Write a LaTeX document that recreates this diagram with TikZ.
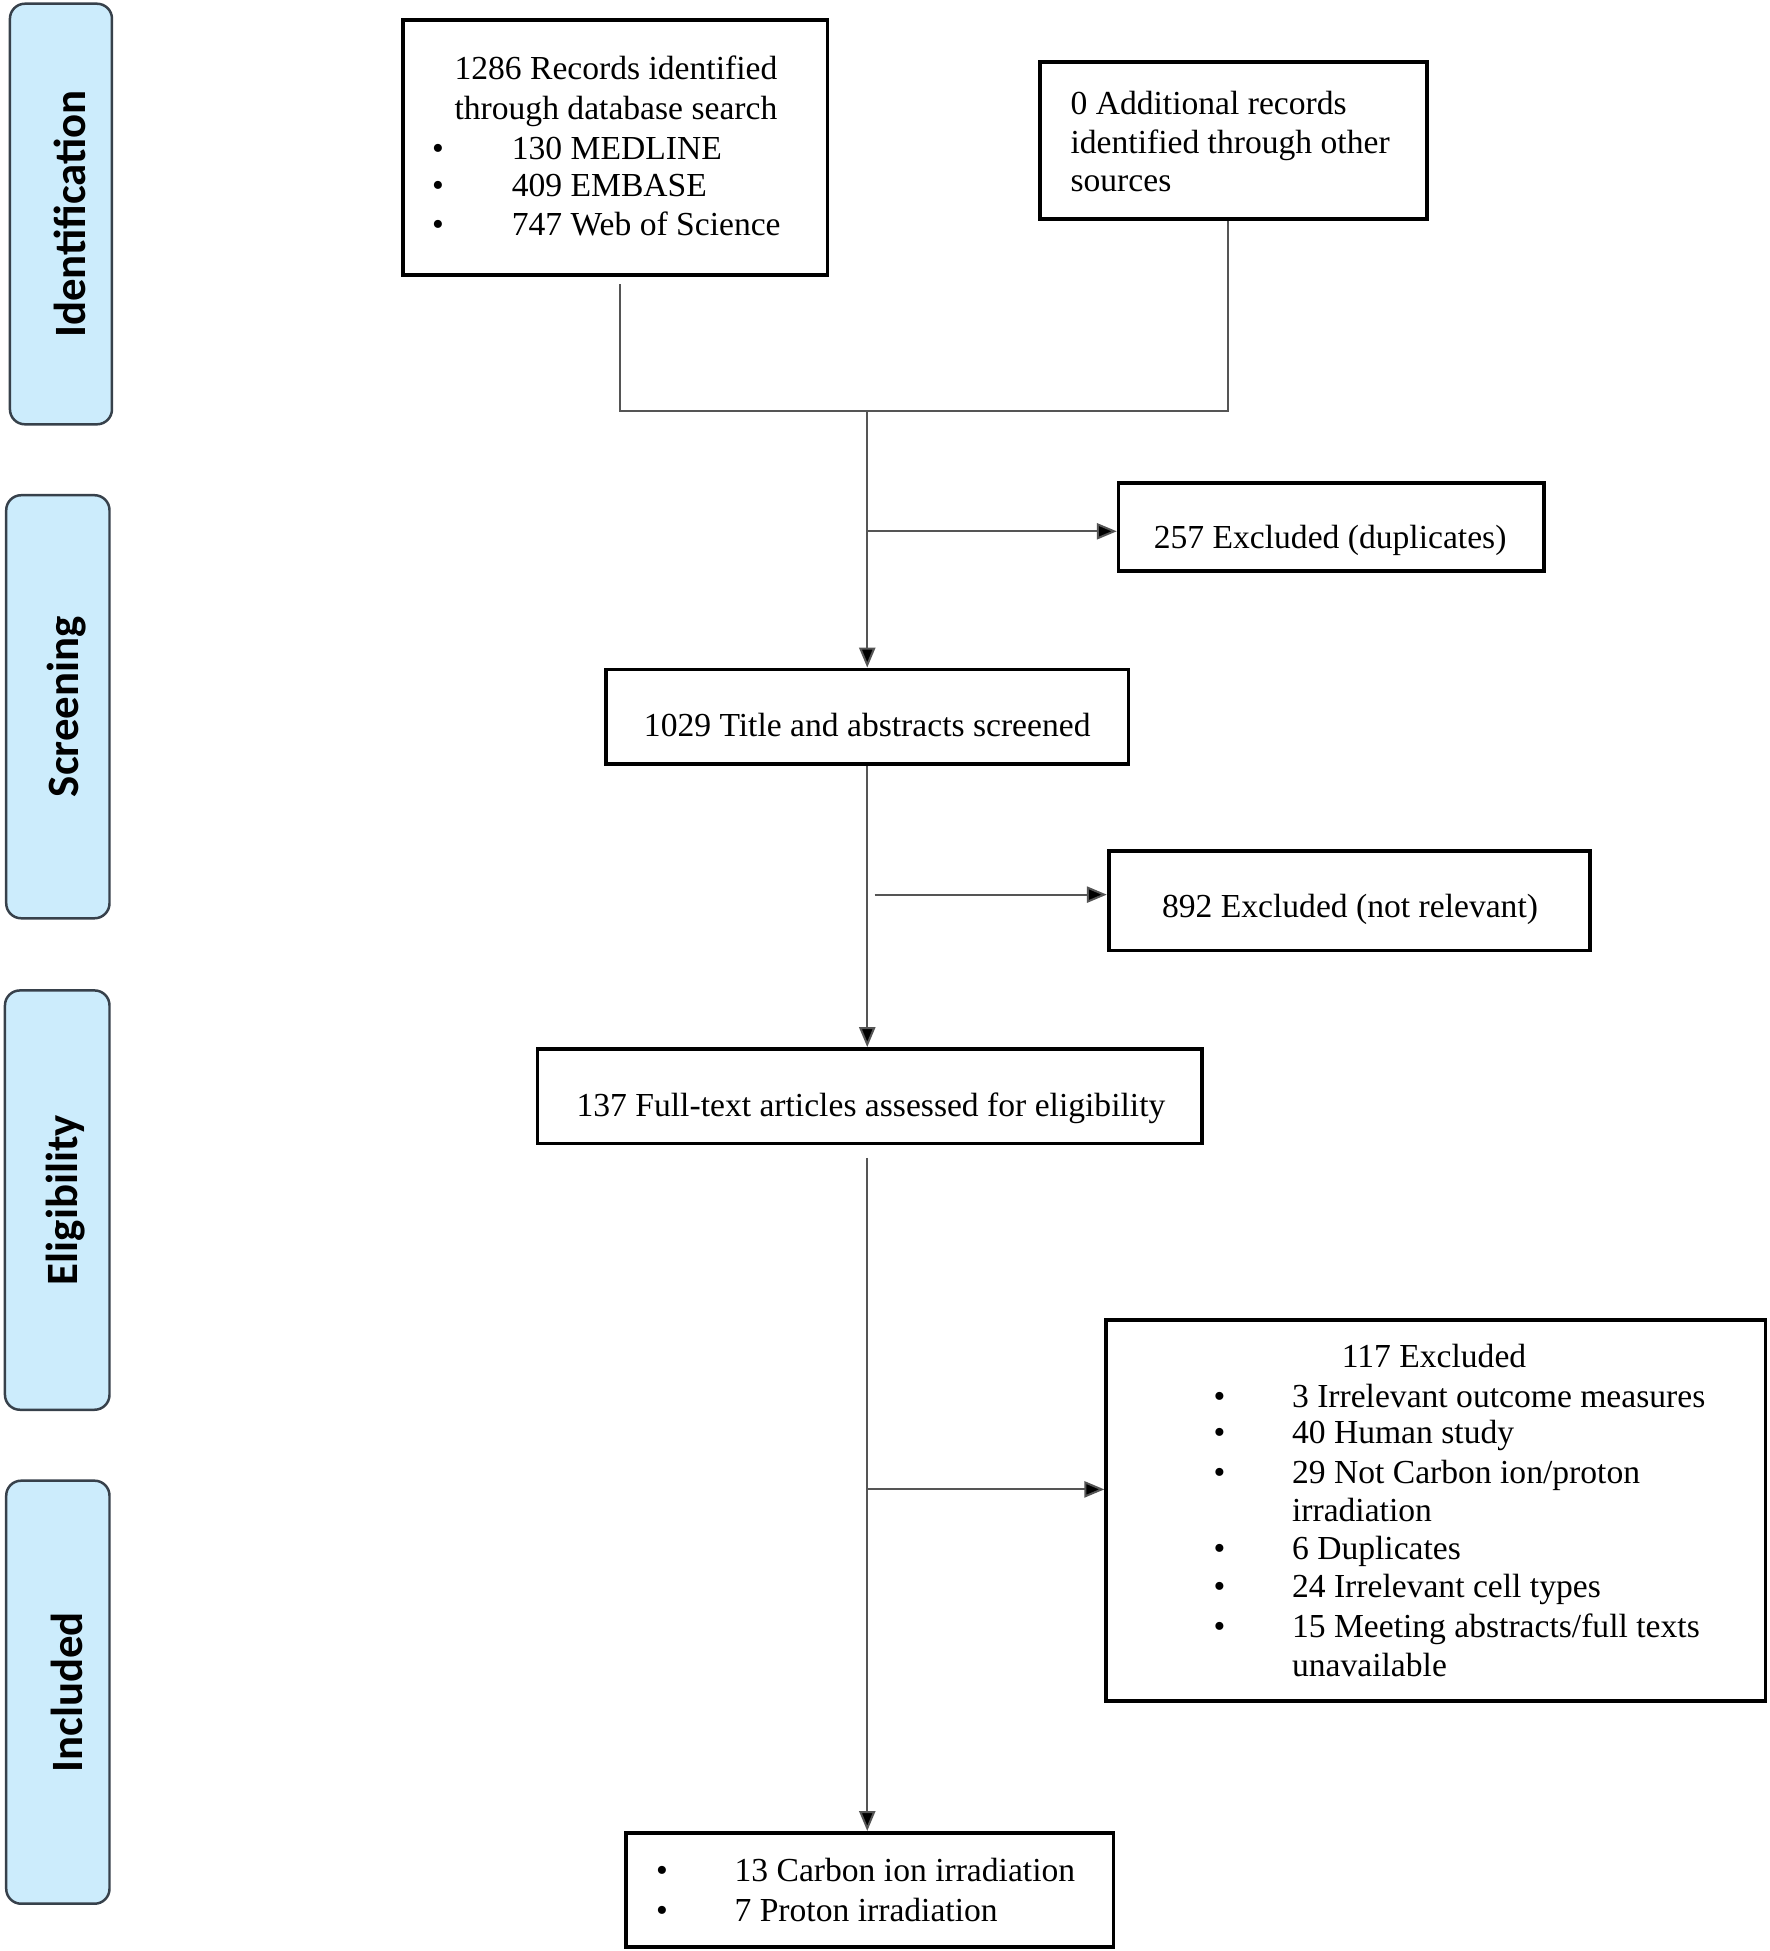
\documentclass[tikz,border=0pt]{standalone}
\usepackage{fontspec}
\setmainfont{Liberation Serif}
\newfontfamily\labelfont{Carlito}
\usetikzlibrary{arrows.meta,fit}
\begin{document}
\begin{tikzpicture}[x=0.5pt,y=-0.5pt,
  box/.style={draw=black,line width=1.5pt,inner sep=0pt},
  phase/.style={draw={rgb,255:red,55;green,65;blue,75},fill={rgb,255:red,204;green,236;blue,252},rounded corners=6pt,line width=1pt,inner sep=0pt},
  phasetext/.style={rotate=90,font=\labelfont\bfseries\fontsize{18}{21}\selectfont},
  txt/.style={font=\fontsize{13.5}{15.5}\selectfont,inner sep=0pt,anchor=base},
  txtl/.style={txt,anchor=base west},
  conn/.style={draw={rgb,255:red,85;green,85;blue,85},line width=0.8pt},
  arr/.style={conn,-{Triangle[length=8pt,width=6.5pt,fill=black]}}]
\useasboundingbox (0,0) rectangle (1422,1568);

% phase labels
\node[phase,fit={(8,3) (90,341)}] (ph1) {};
\node[phasetext] (ph1t) at ([xshift=3.5pt]ph1.center) {Identification};
\node[phase,fit={(5,398) (88,738)}] (ph2) {};
\node[phasetext] (ph2t) at ([xshift=3.5pt]ph2.center) {Screening};
\node[phase,fit={(4,796) (88,1133)}] (ph3) {};
\node[phasetext] (ph3t) at ([xshift=3.5pt]ph3.center) {Eligibility};
\node[phase,fit={(5,1190) (88,1530)}] (ph4) {};
\node[phasetext] (ph4t) at ([xshift=3.5pt]ph4.center) {Included};

% boxes
\node[box,fit={(324,16) (665,221)}] (A) {};
\node[box,fit={(836,50) (1147,176)}] (B) {};
\node[box,fit={(899,388) (1241,459)}] (C) {};
\node[box,fit={(487,538) (907,614)}] (D) {};
\node[box,fit={(891,684) (1278,764)}] (F) {};
\node[box,fit={(432,843) (966,919)}] (E) {};
\node[box,fit={(889,1061) (1419,1367)}] (G) {};
\node[box,fit={(503,1473) (895,1565)}] (H) {};

% texts A
\node[txt] (a1) at (495,64) {1286 Records identified};
\node[txt] (a2) at (495,96) {through database search};
\node[txt] (a3b) at (352,128) {•};
\node[txtl] (a3) at (411,128) {130 MEDLINE};
\node[txt] (a4b) at (352,158) {•};
\node[txtl] (a4) at (411,158) {409 EMBASE};
\node[txt] (a5b) at (352,189) {•};
\node[txtl] (a5) at (411,189) {747 Web of Science};
% texts B
\node[txtl] (b1) at (860,92) {0 Additional records};
\node[txtl] (b2) at (860,123) {identified through other};
\node[txtl] (b3) at (860,154) {sources};
% C, D, E, F
\node[txt] (c1) at (1069,441) {257 Excluded (duplicates)};
\node[txt] (d1) at (697,592) {1029 Title and abstracts screened};
\node[txt] (e1) at (700,897) {137 Full-text articles assessed for eligibility};
\node[txt] (f1) at (1085,737) {892 Excluded (not relevant)};
% G
\node[txtl] (g0) at (1078,1099) {117 Excluded};
\node[txt] (g1b) at (980,1131) {•};
\node[txtl] (g1) at (1038,1131) {3 Irrelevant outcome measures};
\node[txt] (g2b) at (980,1160) {•};
\node[txtl] (g2) at (1038,1160) {40 Human study};
\node[txt] (g3b) at (980,1192) {•};
\node[txtl] (g3) at (1038,1192) {29 Not Carbon ion/proton};
\node[txtl] (g3c) at (1038,1223) {irradiation};
\node[txt] (g4b) at (980,1253) {•};
\node[txtl] (g4) at (1038,1253) {6 Duplicates};
\node[txt] (g5b) at (980,1284) {•};
\node[txtl] (g5) at (1038,1284) {24 Irrelevant cell types};
\node[txt] (g6b) at (980,1316) {•};
\node[txtl] (g6) at (1038,1316) {15 Meeting abstracts/full texts};
\node[txtl] (g6c) at (1038,1347) {unavailable};
% H
\node[txt] (h1b) at (532,1512) {•};
\node[txtl] (h1) at (590,1512) {13 Carbon ion irradiation};
\node[txt] (h2b) at (532,1544) {•};
\node[txtl] (h2) at (590,1544) {7 Proton irradiation};

% connectors
\coordinate (j1) at (498,330);
\coordinate (j2) at (987,330);
\coordinate (m) at (697,330);
\coordinate (bC) at (697,427);
\coordinate (bF) at (703,719);
\coordinate (bG) at (697,1197);
\draw[conn] ([yshift=-3pt]A.south -| j1) -- (j1) -- (j2) -- (B.south -| j2);
\draw[arr] (m) -- (D.north -| m);
\draw[arr] (bC) -- (C.west |- bC);
\draw[arr] (D.south -| m) -- (E.north -| m);
\draw[arr] (bF) -- (F.west |- bF);
\draw[arr] ([yshift=-5pt]E.south -| m) -- (H.north -| m);
\draw[arr] (bG) -- (G.west |- bG);
\end{tikzpicture}
\end{document}
